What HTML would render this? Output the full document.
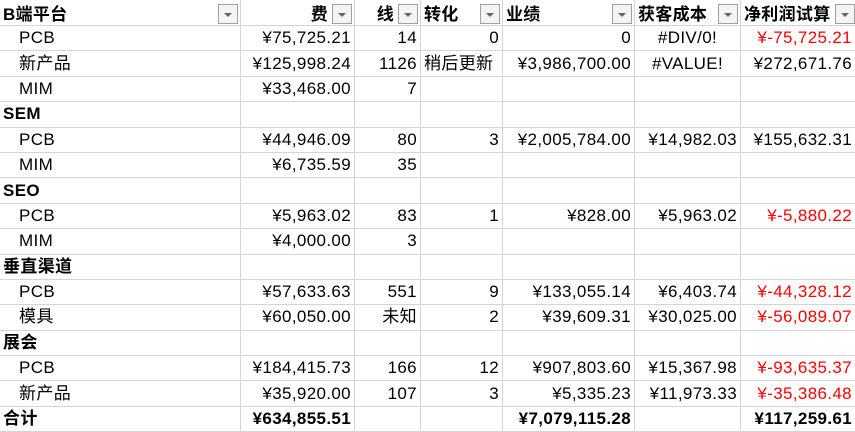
<!DOCTYPE html>
<html><head><meta charset="utf-8"><style>
body{margin:0;width:855px;height:432px;overflow:hidden;background:#fff;font-family:"Liberation Sans","Noto Sans CJK SC",sans-serif;font-size:17px;letter-spacing:0.35px;color:#000;position:relative}
table{border-collapse:collapse;table-layout:fixed;position:absolute;left:-1px;top:-1px;width:858px}
td{border:1px solid #d4d4d4;height:24.4px;padding:0 3px;white-space:nowrap;overflow:hidden;line-height:24px}
td.r{text-align:right}td.c{text-align:center}
td.i{padding-left:19px}
td:last-child{padding-right:5px}
.b{font-weight:bold}.red{color:#f00}
th{border:1px solid #d4d4d4;height:24.4px;padding:0 3px;font-weight:bold;text-align:left;position:relative;white-space:nowrap;letter-spacing:0.3px}
th.r{text-align:right;padding-right:26px}
.dd{position:absolute;right:2px;top:4px;width:20px;height:20px;border:1px solid #a0a0a0;background:#f4f4f4;box-sizing:border-box}
.dd:after{content:"";position:absolute;left:5px;top:8px;border-left:4px solid transparent;border-right:4px solid transparent;border-top:4px solid #666}
</style></head><body>
<table>
<colgroup><col style="width:241px"><col style="width:114px"><col style="width:66px"><col style="width:82px"><col style="width:132px"><col style="width:106px"><col style="width:117px"></colgroup>
<tr>
<th>B端平台<span class="dd"></span></th>
<th class="r">费<span class="dd"></span></th>
<th class="r">线<span class="dd"></span></th>
<th>转化<span class="dd"></span></th>
<th>业绩<span class="dd"></span></th>
<th>获客成本<span class="dd"></span></th>
<th>净利润试算<span class="dd"></span></th>
</tr>
<tr><td class="i">PCB</td><td class="r">¥75,725.21</td><td class="r">14</td><td class="r">0</td><td class="r">0</td><td class="c">#DIV/0!</td><td class="r red">¥-75,725.21</td></tr>
<tr><td class="i">新产品</td><td class="r">¥125,998.24</td><td class="r">1126</td><td>稍后更新</td><td class="r">¥3,986,700.00</td><td class="c">#VALUE!</td><td class="r">¥272,671.76</td></tr>
<tr><td class="i">MIM</td><td class="r">¥33,468.00</td><td class="r">7</td><td></td><td></td><td></td><td></td></tr>
<tr><td class="b">SEM</td><td></td><td></td><td></td><td></td><td></td><td></td></tr>
<tr><td class="i">PCB</td><td class="r">¥44,946.09</td><td class="r">80</td><td class="r">3</td><td class="r">¥2,005,784.00</td><td class="r">¥14,982.03</td><td class="r">¥155,632.31</td></tr>
<tr><td class="i">MIM</td><td class="r">¥6,735.59</td><td class="r">35</td><td></td><td></td><td></td><td></td></tr>
<tr><td class="b">SEO</td><td></td><td></td><td></td><td></td><td></td><td></td></tr>
<tr><td class="i">PCB</td><td class="r">¥5,963.02</td><td class="r">83</td><td class="r">1</td><td class="r">¥828.00</td><td class="r">¥5,963.02</td><td class="r red">¥-5,880.22</td></tr>
<tr><td class="i">MIM</td><td class="r">¥4,000.00</td><td class="r">3</td><td></td><td></td><td></td><td></td></tr>
<tr><td class="b">垂直渠道</td><td></td><td></td><td></td><td></td><td></td><td></td></tr>
<tr><td class="i">PCB</td><td class="r">¥57,633.63</td><td class="r">551</td><td class="r">9</td><td class="r">¥133,055.14</td><td class="r">¥6,403.74</td><td class="r red">¥-44,328.12</td></tr>
<tr><td class="i">模具</td><td class="r">¥60,050.00</td><td class="r">未知</td><td class="r">2</td><td class="r">¥39,609.31</td><td class="r">¥30,025.00</td><td class="r red">¥-56,089.07</td></tr>
<tr><td class="b">展会</td><td></td><td></td><td></td><td></td><td></td><td></td></tr>
<tr><td class="i">PCB</td><td class="r">¥184,415.73</td><td class="r">166</td><td class="r">12</td><td class="r">¥907,803.60</td><td class="r">¥15,367.98</td><td class="r red">¥-93,635.37</td></tr>
<tr><td class="i">新产品</td><td class="r">¥35,920.00</td><td class="r">107</td><td class="r">3</td><td class="r">¥5,335.23</td><td class="r">¥11,973.33</td><td class="r red">¥-35,386.48</td></tr>
<tr class="b"><td class="b">合计</td><td class="r b">¥634,855.51</td><td></td><td></td><td class="r b">¥7,079,115.28</td><td></td><td class="r b">¥117,259.61</td></tr>
</table>
</body></html>
